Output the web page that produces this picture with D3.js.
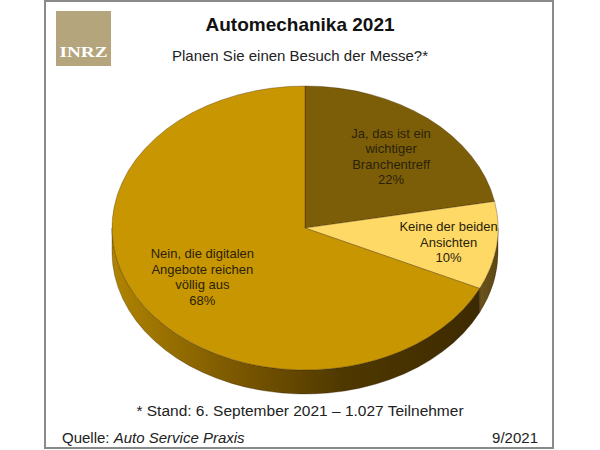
<!DOCTYPE html>
<html><head><meta charset="utf-8">
<script src="https://cdn.jsdelivr.net/npm/d3@7"></script>
<style>body{margin:0;background:#fff;} svg{display:block;}</style>
</head><body>
<svg id="c" width="600" height="450"></svg>
<script>
const categories = ["Ja, das ist ein wichtiger Branchentreff", "Keine der beiden Ansichten", "Nein, die digitalen Angebote reichen völlig aus"];
const values = [22, 10, 68];
const labelLines = [["Ja, das ist ein", "wichtiger", "Branchentreff"], ["Keine der beiden", "Ansichten"], ["Nein, die digitalen", "Angebote reichen", "völlig aus"]];
const topColors = ["#7d5e08", "#ffd966", "#c89600"];
const wallStops = [
  [[0, "#5e4606"], [1, "#5e4606"]],
  [[0.85, "#8a7232"], [1, "#5c4612"]],
  [[0, "#b08400"], [0.3, "#7e5a00"], [0.6, "#4f3800"], [1, "#3a2800"]]
];

const svg = d3.select("#c");
const F = "'Liberation Sans', Arial, sans-serif";

// frame
svg.append("rect").attr("x", 45).attr("y", 1).attr("width", 508).attr("height", 447)
  .attr("fill", "#fff").attr("stroke", "#8a8a8a").attr("stroke-width", 2);

// logo
svg.append("rect").attr("x", 56).attr("y", 11).attr("width", 55).attr("height", 55).attr("fill", "#b4a57c");
svg.append("text").attr("x", 83.5).attr("y", 57).attr("text-anchor", "middle")
  .attr("font-family", "'Liberation Serif', serif").attr("font-size", 14).attr("font-weight", "bold")
  .attr("fill", "#fff").attr("textLength", 48).attr("lengthAdjust", "spacingAndGlyphs").text("INRZ");

// titles
svg.append("text").attr("x", 300).attr("y", 31).attr("text-anchor", "middle")
  .attr("font-family", F).attr("font-size", 19).attr("font-weight", "bold").attr("fill", "#111")
  .text("Automechanika 2021");
svg.append("text").attr("x", 300).attr("y", 61).attr("text-anchor", "middle")
  .attr("font-family", F).attr("font-size", 15).attr("fill", "#222")
  .text("Planen Sie einen Besuch der Messe?*");

// pie geometry
const cx = 305, cy = 228, rx = 193, ry = 142, depth = 24;
const pie = d3.pie().sort(null).value(d => d)(values);
const pt = (a, dy = 0) => [cx + rx * Math.sin(a), cy - ry * Math.cos(a) + dy];

const defs = svg.append("defs");
wallStops.forEach((stops, i) => {
  const g = defs.append("linearGradient").attr("id", "w" + i)
    .attr("gradientUnits", "userSpaceOnUse").attr("x1", cx - rx).attr("x2", cx + rx).attr("y1", 0).attr("y2", 0);
  stops.forEach(s => g.append("stop").attr("offset", s[0]).attr("stop-color", s[1]));
});

// walls (front half only: PI/2 .. 3PI/2)
const wallG = svg.append("g");
pie.forEach((d, i) => {
  const a0 = Math.max(d.startAngle, Math.PI / 2), a1 = Math.min(d.endAngle, 3 * Math.PI / 2);
  if (a1 <= a0) return;
  const p0 = pt(a0), p1 = pt(a1), q1 = pt(a1, depth), q0 = pt(a0, depth);
  const large = (a1 - a0) > Math.PI ? 1 : 0;
  const path = `M${p0}A${rx},${ry} 0 ${large} 1 ${p1}L${q1}A${rx},${ry} 0 ${large} 0 ${q0}Z`;
  wallG.append("path").attr("d", path).attr("fill", `url(#w${i})`)
    .attr("stroke", "rgba(40,25,0,0.5)").attr("stroke-width", 0.6);
});

// top faces
const arc = d3.arc().innerRadius(0).outerRadius(rx);
const topG = svg.append("g").attr("transform", `translate(${cx},${cy}) scale(1,${ry / rx})`);
topG.selectAll("path").data(pie).join("path")
  .attr("d", arc).attr("fill", (d, i) => topColors[i])
  .attr("stroke", "rgba(50,30,0,0.45)").attr("stroke-width", 0.7).attr("vector-effect", "non-scaling-stroke");

// labels
const labelR = [0.7, 0.75, 0.63];
const labelDy = [5, 1, 1];
const lh = 15.5;
pie.forEach((d, i) => {
  const m = (d.startAngle + d.endAngle) / 2;
  const x = cx + labelR[i] * rx * Math.sin(m);
  const y = cy - labelR[i] * ry * Math.cos(m) + labelDy[i];
  const lines = labelLines[i].concat([values[i] + "%"]);
  const t = svg.append("text").attr("text-anchor", "middle").attr("font-family", F)
    .attr("font-size", 13).attr("fill", "#2a2208");
  lines.forEach((s, k) => {
    t.append("tspan").attr("x", x).attr("y", y + (k - (lines.length - 1) / 2) * lh + 4.5).text(s);
  });
});

// footnote + source
svg.append("text").attr("x", 300).attr("y", 416).attr("text-anchor", "middle")
  .attr("font-family", F).attr("font-size", 15.5).attr("fill", "#222")
  .text("* Stand: 6. September 2021 – 1.027 Teilnehmer");
const src = svg.append("text").attr("x", 62).attr("y", 443)
  .attr("font-family", F).attr("font-size", 15).attr("fill", "#222");
src.append("tspan").text("Quelle: ");
src.append("tspan").attr("font-style", "italic").text("Auto Service Praxis");
svg.append("text").attr("x", 538).attr("y", 443).attr("text-anchor", "end")
  .attr("font-family", F).attr("font-size", 15).attr("fill", "#222").text("9/2021");
</script>
</body></html>
